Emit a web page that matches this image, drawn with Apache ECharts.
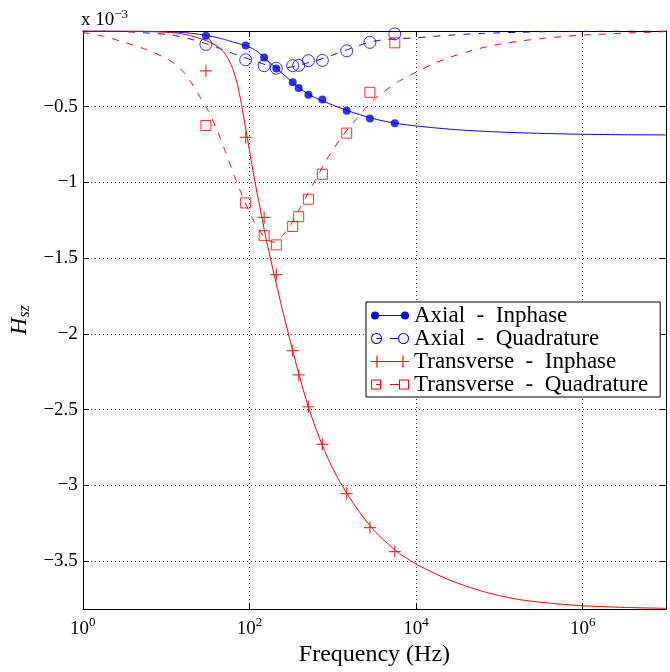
<!DOCTYPE html>
<html><head><meta charset="utf-8">
<script src="https://cdn.jsdelivr.net/npm/echarts@6/dist/echarts.min.js"></script>
<style>html,body{margin:0;padding:0;background:#fff}#c{width:670px;height:672px}</style>
</head><body><div id="c"></div>
<script>
// ---- data (H_sz values in units of 1e-3) ----
const seriesNames = ['Axial  -  Inphase', 'Axial  -  Quadrature', 'Transverse  -  Inphase', 'Transverse  -  Quadrature'];

// frequencies (Hz) of the measured points
const markerFreq = [30, 90, 150, 210, 330, 390, 510, 750, 1470, 2790, 5550];
const axialInMeas   = [-0.032, -0.095, -0.175, -0.248, -0.339, -0.376, -0.421, -0.453, -0.527, -0.578, -0.609];
const axialQuadMeas = [-0.088, -0.190, -0.229, -0.246, -0.229, -0.227, -0.196, -0.194, -0.131, -0.075, -0.019];
const transInMeas   = [-0.263, -0.703, -1.231, -1.608, -2.111, -2.271, -2.481, -2.729, -3.054, -3.279, -3.437];
const transQuadMeas = [-0.624, -1.135, -1.351, -1.412, -1.291, -1.226, -1.111, -0.946, -0.674, -0.405, -0.078];

// frequencies (Hz) of the model curves
const curveFreq = [1, 1.78, 3.16, 5.62, 10, 12.6, 15.8, 20, 25.1, 31.6, 39.8, 44.7, 50.1, 56.2, 63.1, 70.8, 79.4, 89.1, 100, 112, 126,
  158, 200, 251, 316, 398, 501, 631, 794, 1000, 1259, 1585, 1995, 2512, 3162, 3981, 6310, 10000, 15849, 25119, 39811, 63096,
  100000, 177828, 316228, 562341, 1000000, 3162278, 10000000];
const axialInCurve = [0, 0, -0.001, -0.002, -0.005, -0.007, -0.01, -0.015, -0.022, -0.031, -0.042, -0.049, -0.056, -0.064, -0.072, -0.08, -0.088, -0.096, -0.106, -0.12, -0.138,
  -0.186, -0.236, -0.283, -0.33, -0.376, -0.415, -0.443, -0.467, -0.489, -0.51, -0.53, -0.548, -0.565, -0.58, -0.593, -0.613, -0.627, -0.638, -0.648, -0.656, -0.662,
  -0.667, -0.672, -0.676, -0.679, -0.682, -0.685, -0.686];
const axialQuadCurve = [-0.001, -0.002, -0.004, -0.012, -0.022, -0.03, -0.04, -0.055, -0.07, -0.088, -0.107, -0.117, -0.127, -0.137, -0.148, -0.158, -0.168, -0.177, -0.186, -0.196, -0.205,
  -0.224, -0.238, -0.243, -0.238, -0.226, -0.21, -0.195, -0.178, -0.158, -0.138, -0.118, -0.098, -0.08, -0.067, -0.058, -0.05, -0.045, -0.036, -0.028, -0.021, -0.016,
  -0.012, -0.008, -0.005, -0.003, -0.002, -0.001, 0];
const transInCurve = [0, 0, -0.001, -0.003, -0.008, -0.012, -0.02, -0.032, -0.048, -0.068, -0.095, -0.115, -0.145, -0.19, -0.25, -0.34, -0.47, -0.63, -0.79, -0.945, -1.095,
  -1.37, -1.62, -1.85, -2.07, -2.28, -2.47, -2.63, -2.77, -2.89, -2.99, -3.08, -3.16, -3.235, -3.3, -3.355, -3.45, -3.52, -3.575, -3.625, -3.665, -3.70,
  -3.728, -3.755, -3.772, -3.785, -3.795, -3.806, -3.812];
const transQuadCurve = [-0.01, -0.035, -0.075, -0.12, -0.18, -0.215, -0.265, -0.34, -0.43, -0.52, -0.64, -0.71, -0.78, -0.855, -0.93, -1.0, -1.07, -1.135, -1.195, -1.25, -1.3,
  -1.375, -1.395, -1.35, -1.275, -1.175, -1.075, -0.975, -0.875, -0.785, -0.705, -0.635, -0.57, -0.505, -0.45, -0.405, -0.33, -0.272, -0.218, -0.175, -0.14, -0.11,
  -0.087, -0.066, -0.05, -0.037, -0.027, -0.014, -0.004];

// axis ranges / ticks
const xMin = 1, xMax = 1e7, xStepDecades = 2;
const yMin = -3.817, yMax = 0;

// ---- chart ----
const FONT = 'Liberation Serif';
const BLUE = '#0000ff', RED = '#ff0000';
const PLUS = 'path://M0,5.4H12V6.6H0Z M5.4,0H6.6V12H5.4Z';
// legend icons: marker - line - marker (38 x 12)
const ICON_AI = 'path://M0,6a4,4 0 1,1 8,0a4,4 0 1,1 -8,0Z M30,6a4,4 0 1,1 8,0a4,4 0 1,1 -8,0Z M8,5.5H30V6.5H8Z';
const ICON_AQ = 'path://M0,6a5.5,5.5 0 1,1 11,0a5.5,5.5 0 1,1 -11,0Z M1,6a4.5,4.5 0 1,0 9,0a4.5,4.5 0 1,0 -9,0Z ' +
  'M27,6a5.5,5.5 0 1,1 11,0a5.5,5.5 0 1,1 -11,0Z M28,6a4.5,4.5 0 1,0 9,0a4.5,4.5 0 1,0 -9,0Z ' +
  'M5.5,5.5H11V6.5H5.5Z M19,5.5H27V6.5H19Z';
const ICON_TI = 'path://M0,5.4H12V6.6H0Z M5.4,0H6.6V12H5.4Z M26,5.4H38V6.6H26Z M31.4,0H32.6V12H31.4Z M12,5.5H26V6.5H12Z';
const ICON_TQ = 'path://M0,1H10V11H0Z M1,2V10H9V2Z M28,1H38V11H28Z M29,2V10H37V2Z M5,5.5H10V6.5H5Z M19,5.5H28V6.5H19Z';

const pairs = (xs, ys) => xs.map((x, i) => [x, ys[i]]);

function curve(name, ys, color, dashed) {
  return {
    type: 'line', name, data: pairs(curveFreq, ys), xAxisIndex: 0, yAxisIndex: 0,
    showSymbol: false, symbol: 'none', smooth: 0.2,
    lineStyle: {color, width: 1, type: dashed ? [7, 8] : 'solid'},
    itemStyle: {color}, emphasis: {disabled: true}, silent: true, z: 2
  };
}
function marks(name, ys, color, sym, size, hollow) {
  return {
    type: 'scatter', name, data: pairs(markerFreq, ys), xAxisIndex: 0, yAxisIndex: 0,
    symbol: sym, symbolSize: size,
    itemStyle: hollow ? {color: 'rgba(0,0,0,0)', borderColor: color, borderWidth: 1} : {color},
    emphasis: {disabled: true}, silent: true, z: 3
  };
}

const xLabelFmt = v => {
  const e = Math.round(Math.log10(v));
  return (e % 2 === 0) ? '10{s|' + e + '}' : '';
};
const yLabelFmt = v => {
  if (Math.abs(v) < 1e-9) return '';
  if (Math.abs(v * 2 - Math.round(v * 2)) > 1e-6) return '';
  return '\u2212' + String(Math.abs(Math.round(v * 2) / 2));
};

const axisLine = {show: true, onZero: false, lineStyle: {color: '#000', width: 1}};
const tick = {show: true, inside: true, length: 6, lineStyle: {color: '#000', width: 1}};

const chart = echarts.init(document.getElementById('c'), null, {renderer: 'canvas'});
chart.setOption({
  animation: false,
  backgroundColor: '#fff',
  title: {
    text: 'x 10{s|\u22123}', left: 76, top: 3,
    textStyle: {fontFamily: FONT, fontSize: 19, fontWeight: 'normal', color: '#000',
      rich: {s: {fontFamily: FONT, fontSize: 13, color: '#000', padding: [0, 0, 12, 0]}}}
  },
  grid: {left: 76, right: 4, top: 31, bottom: 52, containLabel: false},
  xAxis: [{
    type: 'log', logBase: 10, min: xMin, max: xMax, interval: xStepDecades,
    axisLine, axisTick: tick, minorTick: {show: false},
    axisLabel: {formatter: xLabelFmt, margin: 7, color: '#000', fontFamily: FONT, fontSize: 19,
      showMaxLabel: false,
      rich: {s: {fontFamily: FONT, fontSize: 13, color: '#000', padding: [0, 0, 12, 0]}}},
    splitLine: {show: true, lineStyle: {type: [1, 3], color: '#333', width: 1}},
    name: 'Frequency (Hz)', nameLocation: 'middle', nameGap: 28,
    nameTextStyle: {fontFamily: FONT, fontSize: 24, color: '#000'}
  }, {
    type: 'log', logBase: 10, min: xMin, max: xMax, interval: xStepDecades, position: 'top',
    axisLine, axisTick: tick, minorTick: {show: false}, axisLabel: {show: false}, splitLine: {show: false}
  }],
  yAxis: [{
    type: 'value', min: yMin, max: yMax, splitNumber: 8,
    axisLine, axisTick: tick,
    axisLabel: {formatter: yLabelFmt, margin: 5, color: '#000', fontFamily: FONT, fontSize: 19,
      showMinLabel: false},
    splitLine: {show: true, lineStyle: {type: [1, 3], color: '#333', width: 1}},
    name: '{h|H}{s|sz}', nameLocation: 'middle', nameGap: 46, nameRotate: 90,
    nameTextStyle: {color: '#000', rich: {
      h: {fontFamily: FONT, fontSize: 24, fontStyle: 'italic', color: '#000'},
      s: {fontFamily: FONT, fontSize: 16, fontStyle: 'italic', color: '#000', padding: [9, 0, 0, 0]}}}
  }, {
    type: 'value', min: yMin, max: yMax, splitNumber: 8, position: 'right',
    axisLine, axisTick: tick, axisLabel: {show: false}, splitLine: {show: false}
  }],
  legend: {
    orient: 'vertical', left: 366, top: 302, padding: [2, 12, 1, 5],
    backgroundColor: '#fff', borderColor: '#000', borderWidth: 1,
    itemWidth: 38, itemHeight: 12, itemGap: 0, selectedMode: false,
    itemStyle: {borderWidth: 0}, symbolKeepAspect: true,
    textStyle: {fontFamily: FONT, fontSize: 23, color: '#000', lineHeight: 21},
    data: [
      {name: seriesNames[0], icon: ICON_AI},
      {name: seriesNames[1], icon: ICON_AQ},
      {name: seriesNames[2], icon: ICON_TI},
      {name: seriesNames[3], icon: ICON_TQ}
    ]
  },
  series: [
    curve(seriesNames[0], axialInCurve, BLUE, false),
    curve(seriesNames[1], axialQuadCurve, BLUE, true),
    curve(seriesNames[2], transInCurve, RED, false),
    curve(seriesNames[3], transQuadCurve, RED, true),
    marks(seriesNames[0], axialInMeas, BLUE, 'circle', 8, false),
    marks(seriesNames[1], axialQuadMeas, BLUE, 'circle', 12, true),
    marks(seriesNames[2], transInMeas, RED, PLUS, 12, false),
    marks(seriesNames[3], transQuadMeas, RED, 'rect', 10, true)
  ]
});
</script>
</body></html>
